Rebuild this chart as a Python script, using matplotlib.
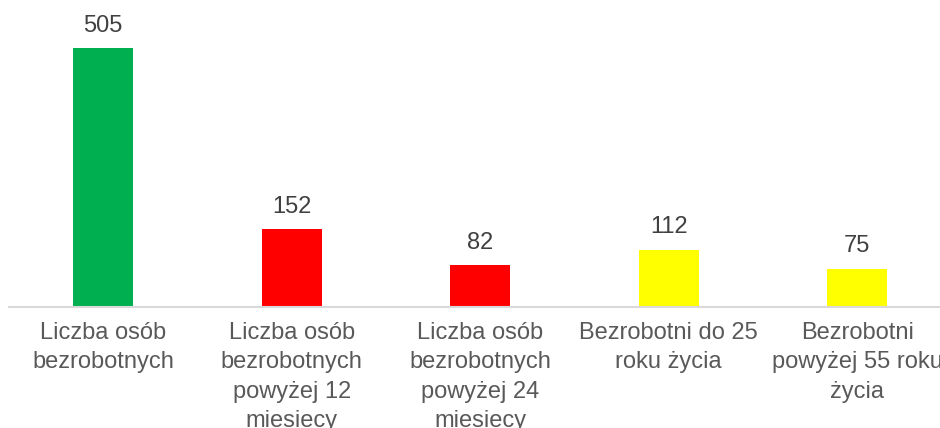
import matplotlib
matplotlib.use('Agg')
import matplotlib.pyplot as plt

categories = ['Liczba osób\nbezrobotnych',
              'Liczba osób\nbezrobotnych\npowyżej 12\nmiesiecy',
              'Liczba osób\nbezrobotnych\npowyżej 24\nmiesiecy',
              'Bezrobotni do 25\nroku życia',
              'Bezrobotni\npowyżej 55 roku\nżycia']
values = [505, 152, 82, 112, 75]
colors = ['#00B050', '#FF0000', '#FF0000', '#FFFF00', '#FFFF00']

plt.rcParams['font.family'] = ['Liberation Sans', 'DejaVu Sans']

fig = plt.figure(figsize=(9.4, 4.28), dpi=100)
ax = fig.add_axes([9 / 940, 121 / 428, 942.5 / 940, 307 / 428])

x = list(range(len(values)))
bars = ax.bar(x, values, width=0.318, color=colors)
ax.set_xlim(-0.5, len(values) - 0.5)
ax.set_ylim(0, 598.6)

for b, v in zip(bars, values):
    ax.annotate(str(v), (b.get_x() + b.get_width() / 2, v),
                xytext=(0, 8), textcoords='offset points',
                ha='center', va='bottom', fontsize=17, color='#404040')

for i, lab in enumerate(categories):
    ax.annotate(lab, (i, 0), xytext=(0, -11), textcoords='offset points',
                ha='center', va='top', fontsize=17, color='#595959',
                linespacing=1.42, annotation_clip=False)

for s in ['top', 'right', 'left']:
    ax.spines[s].set_visible(False)
ax.spines['bottom'].set_color('#D9D9D9')
ax.spines['bottom'].set_linewidth(1.5)
ax.set_xticks([])
ax.set_yticks([])

fig.savefig('out.png', dpi=100)
